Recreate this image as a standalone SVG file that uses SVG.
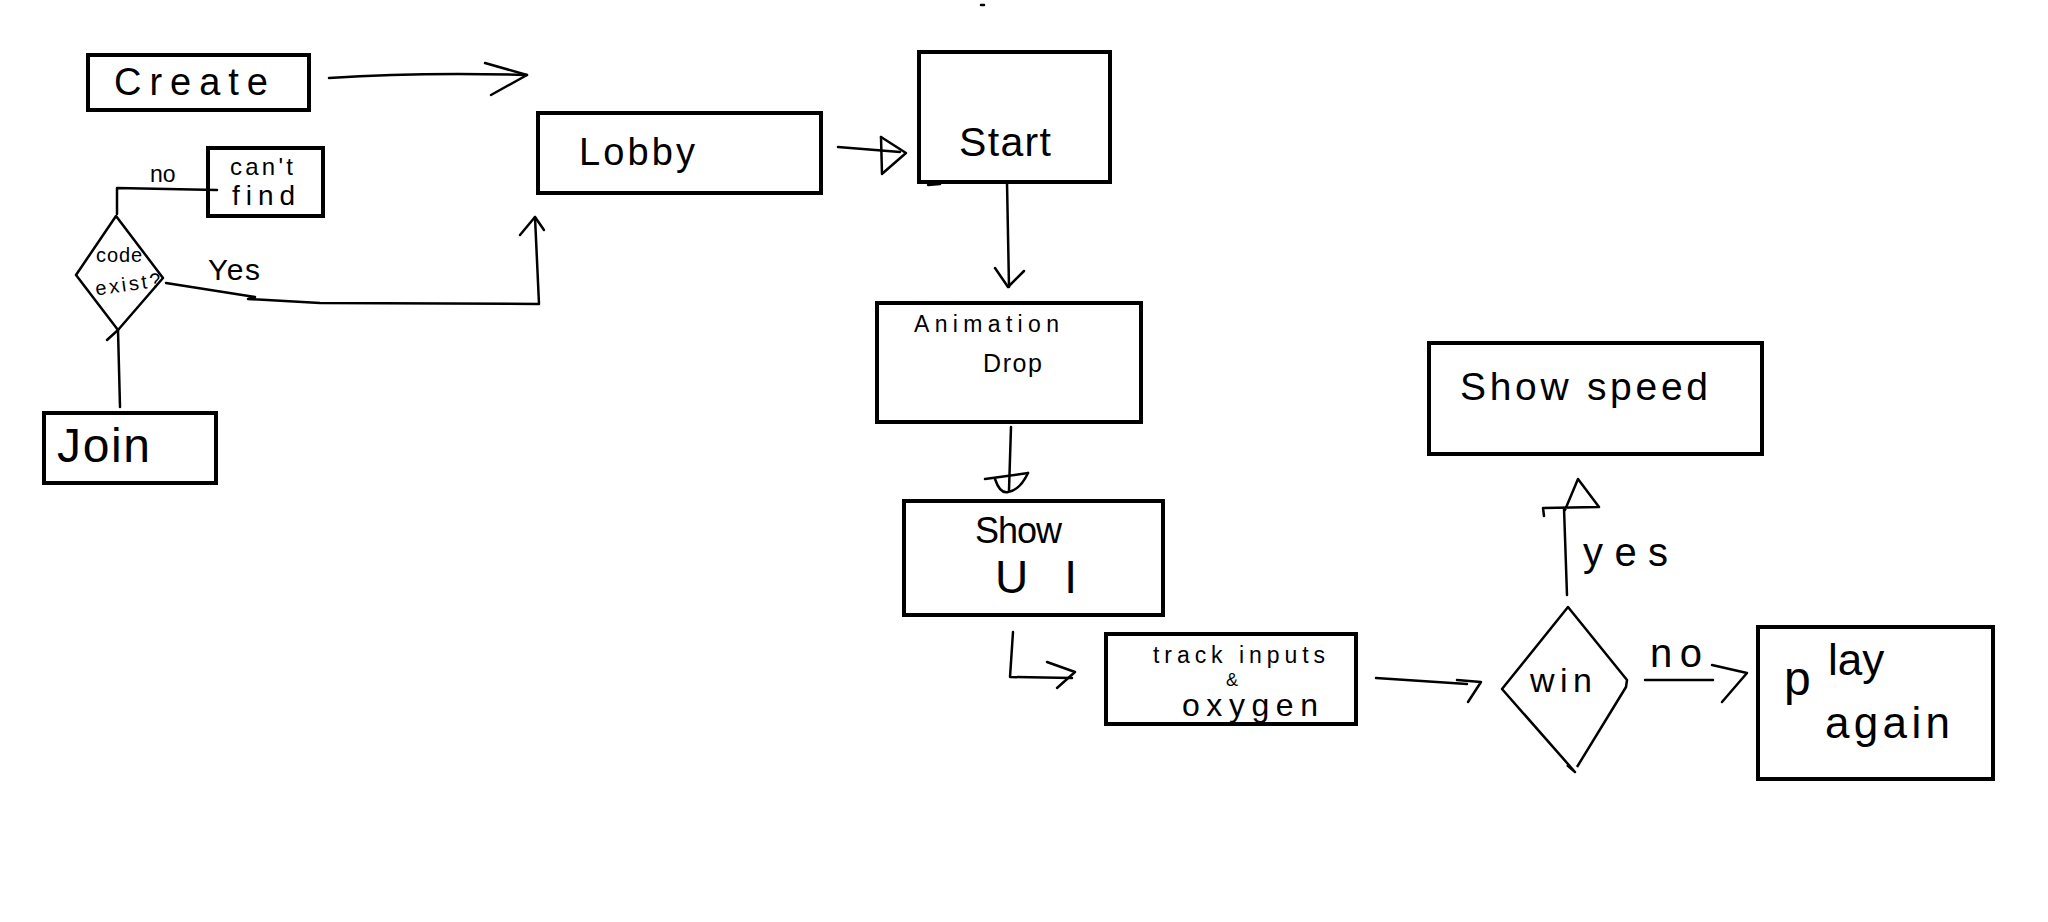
<svg xmlns="http://www.w3.org/2000/svg" width="2048" height="922" viewBox="0 0 2048 922">
<style>
.box{fill:none;stroke:#000;stroke-width:4}
.dia{fill:none;stroke:#000;stroke-width:2.5;stroke-linejoin:round}
.ln{fill:none;stroke:#000;stroke-width:2.5;stroke-linecap:round;stroke-linejoin:round}
.t{font-family:"Liberation Sans",Arial,sans-serif;fill:#000}
</style>
<rect width="2048" height="922" fill="#fff"/>
<line class="ln" x1="981" y1="5" x2="984" y2="5"/>

<g id="create">
<rect class="box" x="88" y="55" width="221" height="55"/>
<text class="t" x="114" y="95" font-size="38" textLength="154" lengthAdjust="spacing">Create</text>
</g>
<g id="cantfind">
<rect class="box" x="208" y="148" width="115" height="68"/>
<text class="t" x="230" y="175" font-size="24" textLength="63" lengthAdjust="spacing">can't</text>
<text class="t" x="232" y="205" font-size="28" textLength="63" lengthAdjust="spacing">find</text>
</g>
<g id="codeexist">
<path class="dia" d="M116,216 L163,278 L118,330 L76,275 Z"/>
<line class="ln" x1="118" y1="330" x2="107" y2="340"/>
<text class="t" x="96" y="262" font-size="20" textLength="46" lengthAdjust="spacing">code</text>
<text class="t" x="95" y="291" font-size="20" textLength="66" lengthAdjust="spacing" transform="rotate(-8 128 285)">exist?</text>
</g>
<g id="join">
<rect class="box" x="44" y="413" width="172" height="70"/>
<text class="t" x="57" y="462" font-size="48" textLength="93" lengthAdjust="spacing">Join</text>
</g>
<g id="lobby">
<rect class="box" x="538" y="113" width="283" height="80"/>
<text class="t" x="579" y="165" font-size="38" textLength="116" lengthAdjust="spacing">Lobby</text>
</g>
<g id="start">
<rect class="box" x="919" y="52" width="191" height="130"/>
<text class="t" x="959" y="156" font-size="41" textLength="92" lengthAdjust="spacing">Start</text>
<line class="ln" x1="928" y1="185" x2="940" y2="184"/>
</g>
<g id="animation">
<rect class="box" x="877" y="303" width="264" height="119"/>
<text class="t" x="914" y="332" font-size="23" textLength="145" lengthAdjust="spacing">Animation</text>
<text class="t" x="983" y="372" font-size="25" textLength="59" lengthAdjust="spacing">Drop</text>
</g>
<g id="showui">
<rect class="box" x="904" y="501" width="259" height="114"/>
<text class="t" x="975" y="543" font-size="36" textLength="87" lengthAdjust="spacing">Show</text>
<text class="t" x="995" y="593" font-size="46" textLength="82" lengthAdjust="spacing">UI</text>
</g>
<g id="track">
<rect class="box" x="1106" y="634" width="250" height="90"/>
<text class="t" x="1153" y="663" font-size="23" textLength="172" lengthAdjust="spacing">track inputs</text>
<text class="t" x="1226" y="686" font-size="18">&amp;</text>
<text class="t" x="1182" y="716" font-size="32" textLength="136" lengthAdjust="spacing">oxygen</text>
</g>
<g id="win">
<path class="dia" d="M1577,767 L1626,687 L1627,680 L1568,607 L1502,689 L1575,772 L1567,765"/>
<text class="t" x="1530" y="692" font-size="34" textLength="62" lengthAdjust="spacing">win</text>
</g>
<g id="showspeed">
<rect class="box" x="1429" y="343" width="333" height="111"/>
<text class="t" x="1460" y="400" font-size="39" textLength="248" lengthAdjust="spacing">Show speed</text>
</g>
<g id="playagain">
<rect class="box" x="1758" y="627" width="235" height="152"/>
<text class="t" font-size="44"><tspan x="1784" y="695" font-size="48">p</tspan><tspan x="1828" y="675">lay</tspan></text>
<text class="t" x="1825" y="738" font-size="44" textLength="125" lengthAdjust="spacing">again</text>
</g>

<g id="connectors">
<path class="ln" d="M329,78 Q420,72 527,75"/>
<polyline class="ln" points="485,63 527,75 491,95"/>
<polyline class="ln" points="217,190 117,188 117,214"/>
<text class="t" x="150" y="182" font-size="23">no</text>
<polyline class="ln" points="166,283 255,297 248,299 320,303 539,304 535,217"/>
<polyline class="ln" points="520,235 535,217 544,230"/>
<text class="t" x="208" y="280" font-size="30" textLength="52" lengthAdjust="spacing">Yes</text>
<line class="ln" x1="118" y1="330" x2="120" y2="407"/>
<line class="ln" x1="838" y1="147" x2="900" y2="152"/>
<line class="ln" x1="881" y1="137" x2="882" y2="174"/>
<polyline class="ln" points="881,137 906,153 883,173"/>
<line class="ln" x1="1007" y1="182" x2="1009" y2="287"/>
<polyline class="ln" points="995,268 1008,287 1024,271"/>
<line class="ln" x1="1011" y1="427" x2="1009" y2="490"/>
<line class="ln" x1="985" y1="479" x2="1028" y2="473"/>
<path class="ln" d="M995,479 Q1000,494 1008,492 Q1020,490 1028,473"/>
<polyline class="ln" points="1013,632 1010,677 1072,678"/>
<polyline class="ln" points="1047,662 1075,672 1057,688"/>
<line class="ln" x1="1376" y1="678" x2="1467" y2="684"/>
<polyline class="ln" points="1457,680 1481,682 1468,702"/>
<line class="ln" x1="1567" y1="595" x2="1564" y2="508"/>
<polyline class="ln" points="1565,510 1578,479 1599,507 1543,508 1544,516"/>
<text class="t" x="1583" y="566" font-size="40" textLength="85" lengthAdjust="spacing">yes</text>
<line class="ln" x1="1645" y1="680" x2="1713" y2="680"/>
<polyline class="ln" points="1712,665 1747,673 1722,702"/>
<text class="t" x="1650" y="667" font-size="40" textLength="52" lengthAdjust="spacing">no</text>
</g>
</svg>
